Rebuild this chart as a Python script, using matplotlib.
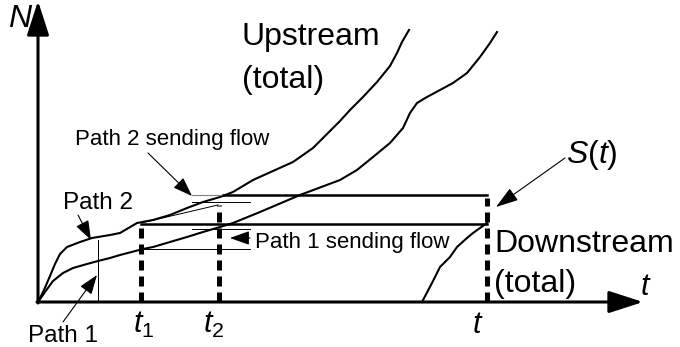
import matplotlib
matplotlib.use("Agg")
from matplotlib import pyplot as plt

plt.rcParams['font.family'] = ['Liberation Sans', 'DejaVu Sans']
plt.rcParams['mathtext.fontset'] = 'custom'
plt.rcParams['mathtext.rm'] = 'Liberation Sans'
plt.rcParams['mathtext.it'] = 'Liberation Sans:italic'

# schematic drawn in picture pixels (x right, y down)
up_x = [38, 44, 50, 55, 60, 67, 80, 92, 110, 120, 137, 153, 170, 187, 203, 220, 233,
        253, 273, 293, 313, 328, 340, 350, 363, 377, 390, 397, 402, 409]
up_y = [302, 290, 276, 264, 254, 247, 242, 238, 235, 233, 223, 220, 215, 208, 202, 197, 192,
        180, 171, 162, 148, 133, 121, 110, 97, 82, 66, 53, 42, 30]

low_x = [38, 45, 53, 63, 73, 87, 98, 110, 120, 143, 153, 170, 187, 203, 220, 233, 260, 300,
         340, 357, 373, 390, 403, 410, 417, 427, 440, 453, 467, 480, 490, 497]
low_y = [302, 292, 281, 273, 268, 264, 261, 258, 255, 249, 247, 242, 237, 232, 227, 223, 212, 195,
         180, 170, 157, 143, 128, 113, 103, 97, 90, 83, 73, 57, 43, 32]

down_x = [422, 432, 440, 450, 457, 467, 473, 487]
down_y = [302, 283, 267, 257, 247, 238, 233, 223]

t1_x, t2_x, t_x = 141, 219, 487
n_t1, n_t2 = 224, 195

fig = plt.figure(figsize=(6.8, 3.47), dpi=100)
ax = fig.add_axes([0, 0, 1, 1])
ax.set_xlim(0, 680)
ax.set_ylim(347, 0)
ax.axis('off')

# axes with arrows
ax.annotate('', xy=(38, 1), xytext=(38, 303),
            arrowprops=dict(arrowstyle='-|>,head_length=1.05,head_width=0.34', mutation_scale=20,
                            lw=2.2, color='k', shrinkA=0, shrinkB=0))
ax.annotate('', xy=(643, 302), xytext=(37, 302),
            arrowprops=dict(arrowstyle='-|>,head_length=1.05,head_width=0.34', mutation_scale=20,
                            lw=2.2, color='k', shrinkA=0, shrinkB=0))

# cumulative curves
ax.plot(up_x, up_y, color='k', lw=1.5, solid_joinstyle='round')
ax.plot(low_x, low_y, color='k', lw=1.5, solid_joinstyle='round')
ax.plot(down_x, down_y, color='k', lw=1.5, solid_joinstyle='round')

# horizontal levels
ax.plot([192, 223], [n_t2, n_t2], color='0.5', lw=0.8)
ax.plot([223, t_x], [n_t2, n_t2], color='k', lw=1.8)
ax.plot([t1_x, t_x], [n_t1, n_t1], color='k', lw=1.8)
ax.plot([192, 250], [202, 202], color='k', lw=0.7)
ax.plot([192, 250], [229, 229], color='k', lw=0.7)
ax.plot([143, 250], [249, 249], color='k', lw=0.7)
ax.plot([t1_x, 218], [223, 205], color='k', lw=0.7)
ax.plot([98, 98], [240, 302], color='k', lw=0.7)

# dashed verticals
for xx, ytop in [(t1_x, n_t1), (t2_x, 205), (t_x, 198)]:
    ax.plot([xx, xx], [302, ytop], color='k', lw=3.6, dashes=(2.0, 1.2))

# labels
ax.text(242, 45, 'Upstream', fontsize=23, ha='left', va='baseline')
ax.text(242, 88, '(total)', fontsize=23, ha='left', va='baseline')
ax.text(494, 252, 'Downstream', fontsize=23, ha='left', va='baseline')
ax.text(494, 292, '(total)', fontsize=23, ha='left', va='baseline')
ax.text(566, 163, '$S$($t$)', fontsize=23, ha='left', va='baseline')
ax.text(75, 145, 'Path 2 sending flow', fontsize=16, ha='left', va='baseline')
ax.text(255, 248, 'Path 1 sending flow', fontsize=16, ha='left', va='baseline')
ax.text(63, 209, 'Path 2', fontsize=17.5, ha='left', va='baseline')
ax.text(28, 342, 'Path 1', fontsize=17.5, ha='left', va='baseline')
ax.text(8, 27, '$N$', fontsize=23, ha='left', va='baseline')
ax.text(640, 295, '$t$', fontsize=22, ha='left', va='baseline')
ax.text(133, 333, '$t_1$', fontsize=22, ha='left', va='baseline')
ax.text(203, 333, '$t_2$', fontsize=22, ha='left', va='baseline')
ax.text(472, 333, '$t$', fontsize=22, ha='left', va='baseline')

# pointers
small = dict(arrowstyle='-|>,head_length=1.2,head_width=0.43', mutation_scale=10,
             lw=0.8, color='k', shrinkA=0, shrinkB=0)
ax.annotate('', xy=(192, 196), xytext=(148, 153), arrowprops=small)
ax.annotate('', xy=(91, 240), xytext=(78, 215), arrowprops=small)
ax.annotate('', xy=(97, 275), xytext=(63, 322), arrowprops=small)
ax.annotate('', xy=(230, 238), xytext=(250, 238), arrowprops=small)
ax.annotate('', xy=(496, 207), xytext=(565, 158),
            arrowprops=dict(small, arrowstyle='-|>,head_length=1.4,head_width=0.45'))

fig.savefig('out.png', dpi=100)
